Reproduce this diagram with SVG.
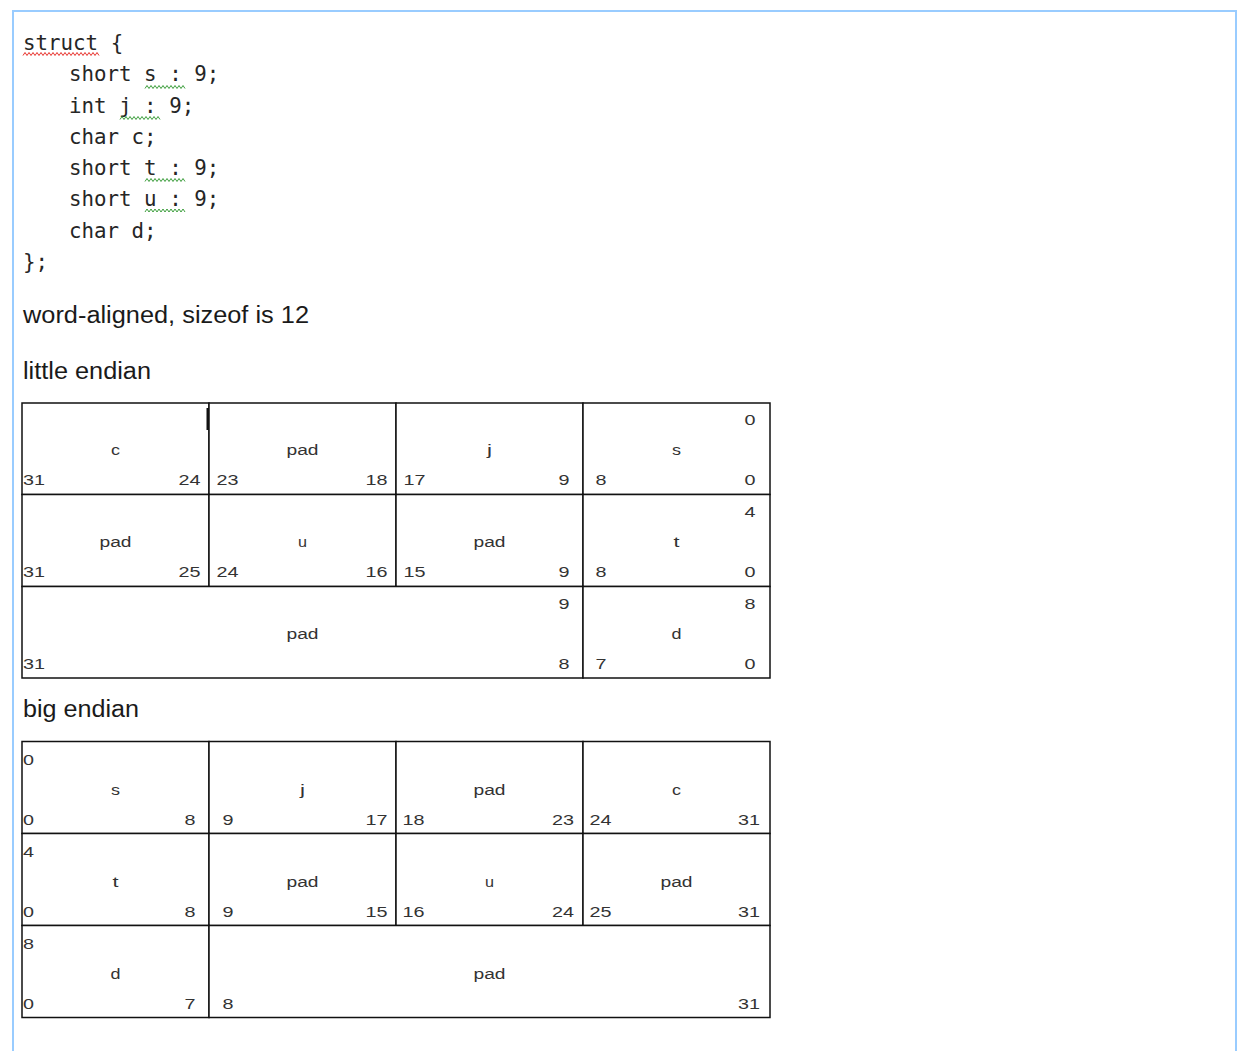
<svg xmlns="http://www.w3.org/2000/svg" width="1242" height="1051" viewBox="0 0 1242 1051">
<style>
.frame{fill:none;stroke:#99ccff;stroke-width:2}
.code{font-family:"DejaVu Sans Mono","Liberation Mono",monospace;font-size:20.8px;fill:#262626}
.h{font-family:"Liberation Sans",Arial,sans-serif;font-size:23px;fill:#1a1a1a}
.t{font-family:"Liberation Sans",Arial,sans-serif;font-size:14px;fill:#333}
.m{text-anchor:middle}
.cell{fill:#fff;stroke:#111;stroke-width:1.5}
.sqr{fill:none;stroke:#e8322c;stroke-width:1}
.sqg{fill:none;stroke:#3c9e3c;stroke-width:1}
</style>
<rect width="1242" height="1051" fill="#fff"/>
<rect class="frame" x="13" y="11" width="1223" height="1100"/>

<g id="code">
<text class="code" x="23" y="50">struct {</text>
<text class="code" x="69" y="81">short s : 9;</text>
<text class="code" x="69" y="112.5">int j : 9;</text>
<text class="code" x="69" y="144">char c;</text>
<text class="code" x="69" y="175">short t : 9;</text>
<text class="code" x="69" y="206">short u : 9;</text>
<text class="code" x="69" y="238">char d;</text>
<text class="code" x="23" y="269">};</text>
</g>
<g id="spellcheck">
<path class="sqr" d="M23 55.5l2 -3l2 3l2 -3l2 3l2 -3l2 3l2 -3l2 3l2 -3l2 3l2 -3l2 3l2 -3l2 3l2 -3l2 3l2 -3l2 3l2 -3l2 3l2 -3l2 3l2 -3l2 3l2 -3l2 3l2 -3l2 3l2 -3l2 3l2 -3l2 3l2 -3l2 3l2 -3l2 3l2 -3l2 3"/>
<path class="sqg" d="M145 88.5l2 -3l2 3l2 -3l2 3l2 -3l2 3l2 -3l2 3l2 -3l2 3l2 -3l2 3l2 -3l2 3l2 -3l2 3l2 -3l2 3l2 -3l2 3"/>
<path class="sqg" d="M120 119.5l2 -3l2 3l2 -3l2 3l2 -3l2 3l2 -3l2 3l2 -3l2 3l2 -3l2 3l2 -3l2 3l2 -3l2 3l2 -3l2 3l2 -3l2 3"/>
<path class="sqg" d="M145 181.5l2 -3l2 3l2 -3l2 3l2 -3l2 3l2 -3l2 3l2 -3l2 3l2 -3l2 3l2 -3l2 3l2 -3l2 3l2 -3l2 3l2 -3l2 3"/>
<path class="sqg" d="M145 212l2 -3l2 3l2 -3l2 3l2 -3l2 3l2 -3l2 3l2 -3l2 3l2 -3l2 3l2 -3l2 3l2 -3l2 3l2 -3l2 3l2 -3l2 3"/>
</g>

<text id="note" class="h" x="23" y="323" textLength="286" lengthAdjust="spacingAndGlyphs">word-aligned, sizeof is 12</text>
<text id="little-title" class="h" x="23" y="379" textLength="128" lengthAdjust="spacingAndGlyphs">little endian</text>
<text id="big-title" class="h" x="23" y="717" textLength="116" lengthAdjust="spacingAndGlyphs">big endian</text>

<g id="little-endian">
<g id="le-r1c1"><rect class="cell" x="22" y="403" width="187" height="91.5"/>
<text class="t m" x="115.5" y="455" textLength="9" lengthAdjust="spacingAndGlyphs">c</text>
<text class="t" x="23" y="485" textLength="22" lengthAdjust="spacingAndGlyphs">31</text>
<text class="t" x="178.5" y="485" textLength="22" lengthAdjust="spacingAndGlyphs">24</text></g>
<g id="le-r1c2"><rect class="cell" x="209" y="403" width="187" height="91.5"/>
<text class="t m" x="302.5" y="455" textLength="32" lengthAdjust="spacingAndGlyphs">pad</text>
<text class="t" x="216.5" y="485" textLength="22" lengthAdjust="spacingAndGlyphs">23</text>
<text class="t" x="365.5" y="485" textLength="22" lengthAdjust="spacingAndGlyphs">18</text></g>
<g id="le-r1c3"><rect class="cell" x="396" y="403" width="187" height="91.5"/>
<text class="t m" x="489.5" y="455" textLength="5" lengthAdjust="spacingAndGlyphs">j</text>
<text class="t" x="403.5" y="485" textLength="22" lengthAdjust="spacingAndGlyphs">17</text>
<text class="t" x="558.5" y="485" textLength="11" lengthAdjust="spacingAndGlyphs">9</text></g>
<g id="le-r1c4"><rect class="cell" x="583" y="403" width="187" height="91.5"/>
<text class="t" x="744.5" y="425" textLength="11" lengthAdjust="spacingAndGlyphs">0</text>
<text class="t m" x="676.5" y="455" textLength="9" lengthAdjust="spacingAndGlyphs">s</text>
<text class="t" x="595.5" y="485" textLength="11" lengthAdjust="spacingAndGlyphs">8</text>
<text class="t" x="744.5" y="485" textLength="11" lengthAdjust="spacingAndGlyphs">0</text></g>

<g id="le-r2c1"><rect class="cell" x="22" y="494.5" width="187" height="92"/>
<text class="t m" x="115.5" y="546.5" textLength="32" lengthAdjust="spacingAndGlyphs">pad</text>
<text class="t" x="23" y="576.5" textLength="22" lengthAdjust="spacingAndGlyphs">31</text>
<text class="t" x="178.5" y="576.5" textLength="22" lengthAdjust="spacingAndGlyphs">25</text></g>
<g id="le-r2c2"><rect class="cell" x="209" y="494.5" width="187" height="92"/>
<text class="t m" x="302.5" y="546.5" textLength="9" lengthAdjust="spacingAndGlyphs">u</text>
<text class="t" x="216.5" y="576.5" textLength="22" lengthAdjust="spacingAndGlyphs">24</text>
<text class="t" x="365.5" y="576.5" textLength="22" lengthAdjust="spacingAndGlyphs">16</text></g>
<g id="le-r2c3"><rect class="cell" x="396" y="494.5" width="187" height="92"/>
<text class="t m" x="489.5" y="546.5" textLength="32" lengthAdjust="spacingAndGlyphs">pad</text>
<text class="t" x="403.5" y="576.5" textLength="22" lengthAdjust="spacingAndGlyphs">15</text>
<text class="t" x="558.5" y="576.5" textLength="11" lengthAdjust="spacingAndGlyphs">9</text></g>
<g id="le-r2c4"><rect class="cell" x="583" y="494.5" width="187" height="92"/>
<text class="t" x="744.5" y="516.5" textLength="11" lengthAdjust="spacingAndGlyphs">4</text>
<text class="t m" x="676.5" y="546.5" textLength="6" lengthAdjust="spacingAndGlyphs">t</text>
<text class="t" x="595.5" y="576.5" textLength="11" lengthAdjust="spacingAndGlyphs">8</text>
<text class="t" x="744.5" y="576.5" textLength="11" lengthAdjust="spacingAndGlyphs">0</text></g>

<g id="le-r3c1"><rect class="cell" x="22" y="586.5" width="561" height="91.5"/>
<text class="t" x="558.5" y="608.5" textLength="11" lengthAdjust="spacingAndGlyphs">9</text>
<text class="t m" x="302.5" y="638.5" textLength="32" lengthAdjust="spacingAndGlyphs">pad</text>
<text class="t" x="23" y="668.5" textLength="22" lengthAdjust="spacingAndGlyphs">31</text>
<text class="t" x="558.5" y="668.5" textLength="11" lengthAdjust="spacingAndGlyphs">8</text></g>
<g id="le-r3c2"><rect class="cell" x="583" y="586.5" width="187" height="91.5"/>
<text class="t" x="744.5" y="608.5" textLength="11" lengthAdjust="spacingAndGlyphs">8</text>
<text class="t m" x="676.5" y="638.5" textLength="10" lengthAdjust="spacingAndGlyphs">d</text>
<text class="t" x="595.5" y="668.5" textLength="11" lengthAdjust="spacingAndGlyphs">7</text>
<text class="t" x="744.5" y="668.5" textLength="11" lengthAdjust="spacingAndGlyphs">0</text></g>
<rect id="cursor" x="206.5" y="408" width="2.5" height="22" fill="#111"/>
</g>

<g id="big-endian">
<g id="be-r1c1"><rect class="cell" x="22" y="741.5" width="187" height="92"/>
<text class="t" x="23" y="764.5" textLength="11" lengthAdjust="spacingAndGlyphs">0</text>
<text class="t m" x="115.5" y="794.5" textLength="9" lengthAdjust="spacingAndGlyphs">s</text>
<text class="t" x="23" y="824.5" textLength="11" lengthAdjust="spacingAndGlyphs">0</text>
<text class="t" x="184.5" y="824.5" textLength="11" lengthAdjust="spacingAndGlyphs">8</text></g>
<g id="be-r1c2"><rect class="cell" x="209" y="741.5" width="187" height="92"/>
<text class="t m" x="302.5" y="794.5" textLength="5" lengthAdjust="spacingAndGlyphs">j</text>
<text class="t" x="222.5" y="824.5" textLength="11" lengthAdjust="spacingAndGlyphs">9</text>
<text class="t" x="365.5" y="824.5" textLength="22" lengthAdjust="spacingAndGlyphs">17</text></g>
<g id="be-r1c3"><rect class="cell" x="396" y="741.5" width="187" height="92"/>
<text class="t m" x="489.5" y="794.5" textLength="32" lengthAdjust="spacingAndGlyphs">pad</text>
<text class="t" x="402.5" y="824.5" textLength="22" lengthAdjust="spacingAndGlyphs">18</text>
<text class="t" x="552" y="824.5" textLength="22" lengthAdjust="spacingAndGlyphs">23</text></g>
<g id="be-r1c4"><rect class="cell" x="583" y="741.5" width="187" height="92"/>
<text class="t m" x="676.5" y="794.5" textLength="9" lengthAdjust="spacingAndGlyphs">c</text>
<text class="t" x="589.5" y="824.5" textLength="22" lengthAdjust="spacingAndGlyphs">24</text>
<text class="t" x="738" y="824.5" textLength="22" lengthAdjust="spacingAndGlyphs">31</text></g>

<g id="be-r2c1"><rect class="cell" x="22" y="833.5" width="187" height="92"/>
<text class="t" x="23" y="856.5" textLength="11" lengthAdjust="spacingAndGlyphs">4</text>
<text class="t m" x="115.5" y="886.5" textLength="6" lengthAdjust="spacingAndGlyphs">t</text>
<text class="t" x="23" y="916.5" textLength="11" lengthAdjust="spacingAndGlyphs">0</text>
<text class="t" x="184.5" y="916.5" textLength="11" lengthAdjust="spacingAndGlyphs">8</text></g>
<g id="be-r2c2"><rect class="cell" x="209" y="833.5" width="187" height="92"/>
<text class="t m" x="302.5" y="886.5" textLength="32" lengthAdjust="spacingAndGlyphs">pad</text>
<text class="t" x="222.5" y="916.5" textLength="11" lengthAdjust="spacingAndGlyphs">9</text>
<text class="t" x="365.5" y="916.5" textLength="22" lengthAdjust="spacingAndGlyphs">15</text></g>
<g id="be-r2c3"><rect class="cell" x="396" y="833.5" width="187" height="92"/>
<text class="t m" x="489.5" y="886.5" textLength="9" lengthAdjust="spacingAndGlyphs">u</text>
<text class="t" x="402.5" y="916.5" textLength="22" lengthAdjust="spacingAndGlyphs">16</text>
<text class="t" x="552" y="916.5" textLength="22" lengthAdjust="spacingAndGlyphs">24</text></g>
<g id="be-r2c4"><rect class="cell" x="583" y="833.5" width="187" height="92"/>
<text class="t m" x="676.5" y="886.5" textLength="32" lengthAdjust="spacingAndGlyphs">pad</text>
<text class="t" x="589.5" y="916.5" textLength="22" lengthAdjust="spacingAndGlyphs">25</text>
<text class="t" x="738" y="916.5" textLength="22" lengthAdjust="spacingAndGlyphs">31</text></g>

<g id="be-r3c1"><rect class="cell" x="22" y="925.5" width="187" height="92"/>
<text class="t" x="23" y="948.5" textLength="11" lengthAdjust="spacingAndGlyphs">8</text>
<text class="t m" x="115.5" y="978.5" textLength="10" lengthAdjust="spacingAndGlyphs">d</text>
<text class="t" x="23" y="1008.5" textLength="11" lengthAdjust="spacingAndGlyphs">0</text>
<text class="t" x="184.5" y="1008.5" textLength="11" lengthAdjust="spacingAndGlyphs">7</text></g>
<g id="be-r3c2"><rect class="cell" x="209" y="925.5" width="561" height="92"/>
<text class="t m" x="489.5" y="978.5" textLength="32" lengthAdjust="spacingAndGlyphs">pad</text>
<text class="t" x="222.5" y="1008.5" textLength="11" lengthAdjust="spacingAndGlyphs">8</text>
<text class="t" x="738" y="1008.5" textLength="22" lengthAdjust="spacingAndGlyphs">31</text></g>
</g>
<g id="connectors"/>
</svg>
